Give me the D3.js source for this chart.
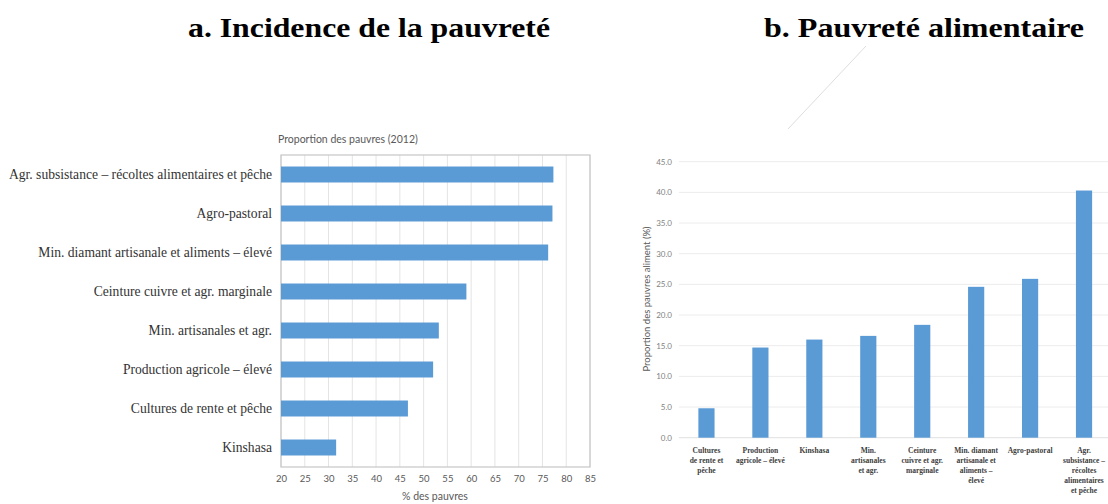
<!DOCTYPE html>
<html lang="fr">
<head>
<meta charset="UTF-8">
<title>Incidence de la pauvreté / Pauvreté alimentaire</title>
<script src="https://cdnjs.cloudflare.com/ajax/libs/d3/7.8.5/d3.min.js"></script>
<style>
  html, body { margin: 0; padding: 0; background: #fff; }
  svg { display: block; }
  .title { font-family: 'Liberation Serif', 'DejaVu Serif', serif; font-weight: bold; font-size: 28px; fill: #000; }
  .sans { font-family: Lato, 'Liberation Sans', sans-serif; }
  .serif { font-family: 'Liberation Serif', serif; }
</style>
</head>
<body>
<svg id="chart" width="1108" height="504"></svg>
<script>
// a. Incidence de la pauvreté (top to bottom)
const zonesA = [
  "Agr. subsistance – récoltes alimentaires et pêche",
  "Agro-pastoral",
  "Min. diamant artisanale et aliments – élevé",
  "Ceinture cuivre et agr. marginale",
  "Min. artisanales et agr.",
  "Production agricole – élevé",
  "Cultures de rente et pêche",
  "Kinshasa"
];
const pauvresA = [77.3, 77.1, 76.2, 59.0, 53.2, 52.0, 46.7, 31.6];
const ticksA = [20, 25, 30, 35, 40, 45, 50, 55, 60, 65, 70, 75, 80, 85];

// b. Pauvreté alimentaire (left to right)
const zonesB = [
  "Cultures\nde rente et\npêche",
  "Production\nagricole – élevé",
  "Kinshasa",
  "Min.\nartisanales\net agr.",
  "Ceinture\ncuivre et agr.\nmarginale",
  "Min. diamant\nartisanale et\naliments –\nélevé",
  "Agro-pastoral",
  "Agr.\nsubsistance –\nrécoltes\nalimentaires\net pêche"
];
const alimentB = [4.8, 14.7, 16.0, 16.6, 18.4, 24.6, 25.9, 40.3];
const ticksB = [0, 5, 10, 15, 20, 25, 30, 35, 40, 45];

const blue = "#5b9bd5";
const svg = d3.select("#chart");

// titles
svg.append("text").attr("class", "title").attr("x", 369).attr("y", 37)
  .attr("text-anchor", "middle").attr("textLength", 362).attr("lengthAdjust", "spacingAndGlyphs")
  .text("a. Incidence de la pauvreté");
svg.append("text").attr("class", "title").attr("x", 924).attr("y", 37)
  .attr("text-anchor", "middle").attr("textLength", 320).attr("lengthAdjust", "spacingAndGlyphs")
  .text("b. Pauvreté alimentaire");

// stray faint line under title b
svg.append("line").attr("x1", 788).attr("y1", 129).attr("x2", 866).attr("y2", 46)
  .attr("stroke", "#d4d4d4").attr("stroke-width", 0.8);

// ---------- chart a ----------
const xA = d3.scaleLinear().domain([20, 85]).range([281, 590]);
const yA = d3.scaleBand().domain(zonesA).range([155, 467]).paddingInner(0.59).paddingOuter(0.295);

const gA = svg.append("g");
gA.append("text").attr("class", "sans").attr("x", 278).attr("y", 143)
  .attr("font-size", 10.5).attr("fill", "#595959").text("Proportion des pauvres (2012)");

gA.selectAll(".vgrid").data(ticksA).join("line")
  .attr("x1", d => xA(d)).attr("x2", d => xA(d))
  .attr("y1", 155).attr("y2", 467)
  .attr("stroke", "#e4e4e4").attr("stroke-width", 1);

gA.append("rect").attr("x", 281).attr("y", 155).attr("width", 309).attr("height", 312)
  .attr("fill", "none").attr("stroke", "#c6c6c6").attr("stroke-width", 1.2);

gA.selectAll(".bar").data(zonesA).join("rect")
  .attr("x", xA(20))
  .attr("y", d => yA(d))
  .attr("width", (d, i) => xA(pauvresA[i]) - xA(20))
  .attr("height", yA.bandwidth())
  .attr("fill", blue);

const axA = gA.append("g").attr("transform", "translate(0,475)")
  .call(d3.axisBottom(xA).tickValues(ticksA).tickSize(0).tickPadding(0));
axA.select(".domain").remove();
axA.selectAll("text").attr("class", "sans").attr("font-size", 9.5).attr("fill", "#595959");

gA.append("text").attr("class", "sans").attr("x", 435).attr("y", 500)
  .attr("text-anchor", "middle").attr("font-size", 10.5).attr("fill", "#595959").text("% des pauvres");

gA.selectAll(".lab").data(zonesA).join("text")
  .attr("class", "serif")
  .attr("x", 272).attr("y", d => yA(d) + yA.bandwidth() / 2)
  .attr("dy", "0.35em").attr("text-anchor", "end")
  .attr("font-size", 13.6).attr("fill", "#333")
  .text(d => d);

// ---------- chart b ----------
const yB = d3.scaleLinear().domain([0, 45]).range([437.7, 161.7]);
const xB = d3.scaleBand().domain(zonesB).range([679.5, 1111]).paddingInner(0.7).paddingOuter(0.35);

const gB = svg.append("g");
gB.selectAll(".hgrid").data(ticksB).join("line")
  .attr("x1", 679).attr("x2", 1108)
  .attr("y1", d => yB(d)).attr("y2", d => yB(d))
  .attr("stroke", d => d === 0 ? "#e0e0e0" : "#ececec").attr("stroke-width", 1);

gB.selectAll(".bar").data(zonesB).join("rect")
  .attr("x", d => xB(d))
  .attr("y", (d, i) => yB(alimentB[i]))
  .attr("width", xB.bandwidth())
  .attr("height", (d, i) => yB(0) - yB(alimentB[i]))
  .attr("fill", blue);

gB.selectAll(".ytick").data(ticksB).join("text")
  .attr("class", "sans")
  .attr("x", 672).attr("y", d => yB(d)).attr("dy", "0.35em")
  .attr("text-anchor", "end").attr("font-size", 8).attr("fill", "#7f7f7f")
  .text(d => d3.format(".1f")(d));

gB.append("text").attr("class", "sans")
  .attr("transform", "translate(650,299) rotate(-90)")
  .attr("text-anchor", "middle").attr("font-size", 9.5).attr("fill", "#595959")
  .text("Proportion des pauvres aliment (%)");

gB.selectAll(".xlab").data(zonesB).join("text")
  .attr("class", "serif")
  .attr("x", d => xB(d) + xB.bandwidth() / 2)
  .attr("y", 453)
  .attr("text-anchor", "middle").attr("font-size", 7.5).attr("font-weight", "bold").attr("fill", "#404040")
  .each(function(d) {
    const t = d3.select(this);
    d.split("\n").forEach((line, k) => {
      t.append("tspan").attr("x", xB(d) + xB.bandwidth() / 2).attr("dy", k === 0 ? 0 : 10).text(line);
    });
  });
</script>
</body>
</html>
